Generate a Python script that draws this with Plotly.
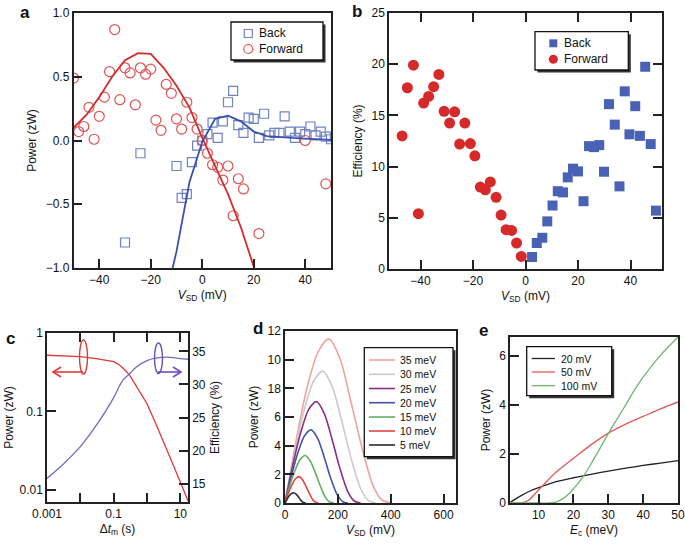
import plotly.graph_objects as go

W, H = 685, 544
def px(x): return x / W
def py(y): return 1 - y / H

FONT = "Liberation Sans, Arial, Helvetica, sans-serif"
AX = "#222222"

# ---------------- Panel a data ----------------
a_fwd_v = [-50, -48, -46, -44, -42, -40, -38, -36, -34, -32, -30, -28, -26, -24, -22, -20, -18, -16,
           -14, -12, -10, -8, -6, -4, -2, 0, 2, 4, 6, 8, 10, 12, 14, 16, 22, 40, 48]
a_fwd_p = [0.49, 0.07, 0.11, 0.26, 0.01, 0.19, 0.34, 0.54, 0.87, 0.32, 0.57, 0.53, 0.28, 0.57, 0.52, 0.56,
           0.16, 0.08, 0.44, 0.37, 0.17, 0.09, 0.30, 0.18, 0.09, 0.00, -0.10, -0.19, -0.21, -0.31, -0.20,
           -0.59, -0.30, -0.38, -0.73, 0.00, -0.34]
a_back_v = [-30, -24, -10, -8, -6, -4, -2, 0, 2, 4, 6, 8, 10, 12, 14, 16, 18, 20, 22, 24, 26, 28, 30, 32,
            34, 36, 38, 40, 42, 44, 46, 48, 50]
a_back_p = [-0.80, -0.10, -0.20, -0.45, -0.42, -0.17, -0.04, 0.00, 0.05, 0.14, 0.02, 0.15, 0.30, 0.39, 0.12,
            0.06, 0.18, 0.17, 0.02, 0.21, 0.04, 0.06, 0.06, 0.19, 0.07, 0.02, 0.07, 0.05, 0.11, 0.04, 0.07,
            0.03, 0.01]
a_fitf_v = [-50, -45, -40, -35, -30, -25, -20, -15, -10, -5, 0, 5, 10, 15, 20, 25]
a_fitf_p = [0.10, 0.20, 0.34, 0.50, 0.63, 0.685, 0.68, 0.57, 0.43, 0.26, 0.02, -0.20, -0.42, -0.68, -0.97, -1.30]
a_fitb_v = [-15, -10, -5, 0, 5, 10, 15, 20, 25, 30, 35, 40, 45, 50]
a_fitb_p = [-1.30, -0.87, -0.33, -0.01, 0.17, 0.195, 0.15, 0.07, 0.035, 0.025, 0.02, 0.015, 0.01, 0.005]

# ---------------- Panel b data ----------------
b_fwd_v = [-47.0, -45.0, -42.7, -40.8, -38.8, -36.9, -35.0, -33.0, -31.0, -28.9, -27.0, -25.1, -23.1, -21.0,
           -19.3, -17.2, -15.3, -13.4, -11.2, -9.3, -7.4, -5.3, -3.4, -1.6]
b_fwd_e = [13.0, 17.7, 19.9, 5.4, 16.2, 16.85, 17.8, 19.0, 15.4, 14.25, 15.35, 12.2, 14.25, 12.25, 11.05,
           8.0, 7.74, 8.5, 7.0, 5.27, 3.84, 3.77, 2.54, 1.23]
b_back_v = [2.5, 4.3, 6.4, 8.3, 10.3, 12.3, 14.3, 16.1, 18.1, 20.0, 22.1, 24.2, 26.1, 28.1, 29.9, 31.8, 34.0,
            35.8, 37.8, 39.6, 41.8, 43.6, 45.6, 47.7, 49.7]
b_back_e = [1.17, 2.54, 3.05, 4.65, 6.2, 7.6, 7.48, 8.95, 9.8, 9.53, 6.62, 12.0, 11.9, 12.1, 9.5, 16.1, 14.1,
            8.07, 17.35, 13.15, 15.9, 13.0, 19.75, 12.2, 5.7]

# ---------------- Panel c data ----------------
c_t = [0.001, 0.003, 0.01, 0.03, 0.1, 0.15, 0.2, 0.3, 0.5, 1, 2, 5, 10, 17]
c_power = [0.52, 0.51, 0.50, 0.47, 0.43, 0.39, 0.35, 0.29, 0.205, 0.125, 0.064, 0.026, 0.0125, 0.0072]
c_eff = [15.8, 17.9, 20.6, 23.8, 28.0, 29.8, 30.8, 31.6, 32.7, 33.6, 34.0, 34.1, 33.9, 33.8]

# ---------------- Panel d data ----------------
d_labels = ["35 meV", "30 meV", "25 meV", "20 meV", "15 meV", "10 meV", "5 meV"]
d_v = [
    [0, 42, 83, 125, 166, 208, 249, 291, 332, 365, 398],
    [0, 36, 72, 107, 143, 179, 215, 250, 286, 315, 343],
    [0, 30, 60, 89, 119, 149, 179, 208, 238, 262, 286],
    [0, 25, 50, 74, 99, 124, 149, 173, 198, 218, 238],
    [0, 19, 39, 58, 77, 96, 116, 135, 154, 169, 185],
    [0, 13, 27, 40, 53, 66, 80, 93, 106, 117, 127],
    [0, 8, 16, 25, 33, 41, 50, 58, 66, 73, 79],
]
d_p = [
    [0, 4.35, 8.02, 10.53, 11.45, 10.08, 7.10, 3.89, 1.26, 0.23, 0],
    [0, 3.50, 6.44, 8.46, 9.20, 8.10, 5.70, 3.13, 1.01, 0.18, 0],
    [0, 2.69, 4.95, 6.50, 7.07, 6.22, 4.38, 2.40, 0.78, 0.14, 0],
    [0, 1.94, 3.57, 4.69, 5.10, 4.49, 3.16, 1.73, 0.56, 0.10, 0],
    [0, 1.26, 2.32, 3.05, 3.31, 2.91, 2.05, 1.13, 0.36, 0.07, 0],
    [0, 0.70, 1.29, 1.69, 1.84, 1.62, 1.14, 0.63, 0.20, 0.04, 0],
    [0, 0.27, 0.50, 0.66, 0.72, 0.63, 0.45, 0.24, 0.08, 0.01, 0],
]
d_colors = ["#f0a2a2", "#cbcbcb", "#8c2f84", "#4153a8", "#62b062", "#e24444", "#2a2a2a"]
d_yticks = [0, 2, 4, 6, 8, 10, 12]
d_yticktext = ["0", "2", "4", "6", "18", "10", "12"]

# ---------------- Panel e data ----------------
e_labels = ["20 mV", "50 mV", "100 mV"]
e_ec = [
    [1.8, 5, 8, 11, 15, 20, 25, 30, 35, 40, 45, 50],
    [1.8, 5, 7, 9, 11, 13, 15, 17.5, 20, 25, 30, 35, 40, 45, 50],
    [1.8, 10, 13, 15, 17, 19, 21, 23, 25, 27.5, 30, 32.5, 35, 37.5, 40, 45, 50],
]
e_p = [
    [0.02, 0.30, 0.52, 0.68, 0.87, 1.03, 1.17, 1.30, 1.42, 1.53, 1.63, 1.73],
    [0, 0, 0.10, 0.38, 0.68, 0.98, 1.25, 1.55, 1.82, 2.37, 2.85, 3.22, 3.53, 3.84, 4.12],
    [0, 0, 0, 0.04, 0.18, 0.42, 0.75, 1.12, 1.58, 2.20, 2.83, 3.42, 4.00, 4.60, 5.13, 6.03, 6.77],
]
e_colors = ["#222222", "#e05a5a", "#72b472"]

BACK_OPEN, FWD_OPEN = "#6f82c4", "#e05454"
BACK_FILL, FWD_FILL = "#4a62b5", "#d62a2a"

fig = go.Figure()

# Panel a
fig.add_trace(go.Scatter(x=a_back_v, y=a_back_p, mode="markers", name="Back", showlegend=False,
                         marker=dict(symbol="square-open", size=9, color=BACK_OPEN, line=dict(width=1.2)),
                         xaxis="x", yaxis="y"))
fig.add_trace(go.Scatter(x=a_fwd_v, y=a_fwd_p, mode="markers", name="Forward", showlegend=False,
                         marker=dict(symbol="circle-open", size=10, color=FWD_OPEN, line=dict(width=1.2)),
                         xaxis="x", yaxis="y"))
fig.add_trace(go.Scatter(x=a_fitf_v, y=a_fitf_p, mode="lines", showlegend=False,
                         line=dict(color="#d42c2c", width=1.8), xaxis="x", yaxis="y"))
fig.add_trace(go.Scatter(x=a_fitb_v, y=a_fitb_p, mode="lines", showlegend=False,
                         line=dict(color="#3b4fb0", width=1.8), xaxis="x", yaxis="y"))

# Panel b
fig.add_trace(go.Scatter(x=b_back_v, y=b_back_e, mode="markers", name="Back", showlegend=False,
                         marker=dict(symbol="square", size=10, color=BACK_FILL),
                         xaxis="x2", yaxis="y2"))
fig.add_trace(go.Scatter(x=b_fwd_v, y=b_fwd_e, mode="markers", name="Forward", showlegend=False,
                         marker=dict(symbol="circle", size=11, color=FWD_FILL),
                         xaxis="x2", yaxis="y2"))

# Panel c
fig.add_trace(go.Scatter(x=c_t, y=c_power, mode="lines", showlegend=False,
                         line=dict(color="#e03838", width=1.3), xaxis="x3", yaxis="y3"))
fig.add_trace(go.Scatter(x=c_t, y=c_eff, mode="lines", showlegend=False,
                         line=dict(color="#6d6dc2", width=1.3, shape="spline"), xaxis="x3", yaxis="y4"))

# Panel d
for lab, v, p, col in zip(d_labels, d_v, d_p, d_colors):
    fig.add_trace(go.Scatter(x=v, y=p, mode="lines", name=lab, showlegend=False,
                             line=dict(color=col, width=1.6, shape="spline", smoothing=0.8),
                             xaxis="x4", yaxis="y5"))

# Panel e
for lab, ec, p, col in zip(e_labels, e_ec, e_p, e_colors):
    fig.add_trace(go.Scatter(x=ec, y=p, mode="lines", name=lab, showlegend=False,
                             line=dict(color=col, width=1.3, shape="spline", smoothing=0.8),
                             xaxis="x5", yaxis="y6"))


def ax(**kw):
    d = dict(showline=True, linecolor=AX, linewidth=1.5, ticks="inside", ticklen=9, tickwidth=1.5,
             tickcolor=AX, showgrid=False, zeroline=False, mirror=True, automargin=False,
             ticklabeloverflow="allow",
             tickfont=dict(size=12, color="#111"), title_font=dict(size=12, color="#111"))
    d.update(kw)
    return d


VSD = "<i>V</i><sub>SD</sub> (mV)"
fig.update_layout(
    width=W, height=H, margin=dict(l=0, r=0, t=0, b=0),
    paper_bgcolor="white", plot_bgcolor="white", showlegend=False,
    font=dict(family=FONT, size=12, color="#111"),
    xaxis=ax(domain=[px(73.5), px(331)], range=[-50, 50], tickvals=[-40, -20, 0, 20, 40], anchor="y",
             title=dict(text=VSD, standoff=4)),
    yaxis=ax(domain=[py(268), py(13)], range=[-1, 1], tickvals=[-1, -0.5, 0, 0.5, 1], tickformat=".1f",
             anchor="x", title=dict(text="Power (zW)", standoff=6)),
    xaxis2=ax(domain=[px(389), px(662)], range=[-52, 52], tickvals=[-40, -20, 0, 20, 40], anchor="y2",
              mirror="ticks", title=dict(text=VSD, standoff=4)),
    yaxis2=ax(domain=[py(269), py(13)], range=[0, 25], tickvals=[0, 5, 10, 15, 20, 25], anchor="x2",
              mirror="ticks", title=dict(text="Efficiency (%)", standoff=6)),
    xaxis3=ax(domain=[px(47), px(188)], type="log", range=[-3, 1.23],
              tickvals=[0.001, 0.1, 10], ticktext=["0.001", "0.1", "10"],
              minor=dict(tickvals=[0.01, 1], ticks="inside", ticklen=9, tickwidth=1.5, tickcolor=AX),
              anchor="y3", mirror="ticks", title=dict(text="Δ<i>t</i><sub>m</sub> (s)", standoff=4)),
    yaxis3=ax(domain=[py(502), py(333)], type="log", range=[-2.157, 0],
              tickvals=[0.01, 0.1, 1], ticktext=["0.01", "0.1", "1"], anchor="x3", mirror=False,
              title=dict(text="Power (zW)", standoff=3)),
    yaxis4=ax(overlaying="y3", side="right", anchor="x3", range=[12.23, 37.77],
              tickvals=[15, 20, 25, 30, 35], mirror=False,
              title=dict(text="Efficiency (%)", standoff=6)),
    xaxis4=ax(domain=[px(285), px(456)], range=[0, 647], tickvals=[0, 200, 400, 600], anchor="y5",
              title=dict(text=VSD, standoff=4)),
    yaxis5=ax(domain=[py(503), py(331)], range=[0, 12], tickvals=d_yticks, ticktext=d_yticktext,
              anchor="x4", title=dict(text="Power (zW)", standoff=6)),
    xaxis5=ax(domain=[px(510), px(678)], range=[1.8, 50], tickvals=[10, 20, 30, 40, 50], anchor="y6",
              title=dict(text="<i>E</i><sub>c</sub> (meV)", standoff=4)),
    yaxis6=ax(domain=[py(503), py(337)], range=[0, 6.77], tickvals=[0, 2, 4, 6], anchor="x5",
              title=dict(text="Power (zW)", standoff=6)),
)

shapes = []
annots = []

# panel letters
for letter, x, y in [("a", 25, 12), ("b", 357, 11), ("c", 10, 338), ("d", 258, 328), ("e", 483, 330)]:
    annots.append(dict(text=f"<b>{letter}</b>", x=px(x), y=py(y), xref="paper", yref="paper",
                       showarrow=False, xanchor="center", yanchor="middle", font=dict(size=17, color="#111")))


def legend_frame(x0, y0, x1, y1):
    shapes.append(dict(type="rect", xref="paper", yref="paper", x0=px(x0 + 2.5), x1=px(x1 + 2.5),
                       y0=py(y1 + 2.5), y1=py(y0 + 2.5), fillcolor="#333", line=dict(width=0)))
    shapes.append(dict(type="rect", xref="paper", yref="paper", x0=px(x0), x1=px(x1),
                       y0=py(y1), y1=py(y0), fillcolor="white", line=dict(color="#111", width=1.3)))


def legend_text(text, x, y, size):
    annots.append(dict(text=text, x=px(x), y=py(y), xref="paper", yref="paper", showarrow=False,
                       xanchor="left", yanchor="middle", font=dict(size=size, color="#111")))


def sym(kind, cx, cy, r, color, filled):
    shapes.append(dict(type=kind, xref="paper", yref="paper", x0=px(cx - r), x1=px(cx + r),
                       y0=py(cy + r), y1=py(cy - r),
                       fillcolor=color if filled else "rgba(0,0,0,0)",
                       line=dict(color=color, width=0 if filled else 1.2)))


# legend a
legend_frame(231, 22, 323, 60)
sym("rect", 248.3, 33.5, 4, BACK_OPEN, False)
sym("circle", 248.3, 49, 4.5, FWD_OPEN, False)
legend_text("Back", 257, 33.5, 12)
legend_text("Forward", 257, 49, 12)

# legend b
legend_frame(535, 31.7, 628.3, 70)
sym("rect", 553.3, 43.3, 4, BACK_FILL, True)
sym("circle", 553.3, 59.3, 4.5, FWD_FILL, True)
legend_text("Back", 562, 43.3, 12)
legend_text("Forward", 562, 59.3, 12)

# legend d
legend_frame(364.3, 347.7, 453, 456.7)
d_rows = [360, 374.3, 388.5, 402.7, 417, 431, 445]
for lab, col, yy in zip(d_labels, d_colors, d_rows):
    shapes.append(dict(type="line", xref="paper", yref="paper", x0=px(369), x1=px(395), y0=py(yy), y1=py(yy),
                       line=dict(color=col, width=1.6)))
    legend_text(lab, 397.5, yy, 10.5)

# legend e
legend_frame(526.7, 346.7, 611.7, 395.7)
e_rows = [358.5, 372, 385.7]
for lab, col, yy in zip(e_labels, e_colors, e_rows):
    shapes.append(dict(type="line", xref="paper", yref="paper", x0=px(531.7), x1=px(555), y0=py(yy), y1=py(yy),
                       line=dict(color=col, width=1.3)))
    legend_text(lab, 559, yy, 10.5)

# panel c ellipses and arrows
RED, PUR = "#e03a3a", "#6a50b8"
shapes += [
    dict(type="circle", xref="paper", yref="paper", x0=px(79.5), x1=px(87.5), y0=py(374), y1=py(340),
         line=dict(color=RED, width=1.4)),
    dict(type="line", xref="paper", yref="paper", x0=px(83), x1=px(53.5), y0=py(372), y1=py(372),
         line=dict(color=RED, width=1.6)),
    dict(type="path", xref="paper", yref="paper",
         path=f"M {px(61)} {py(367)} L {px(53)} {py(372)} L {px(61)} {py(377)}",
         line=dict(color=RED, width=1.6)),
    dict(type="circle", xref="paper", yref="paper", x0=px(154.5), x1=px(162.5), y0=py(373.5), y1=py(343),
         line=dict(color=PUR, width=1.4)),
    dict(type="line", xref="paper", yref="paper", x0=px(158), x1=px(180.5), y0=py(372), y1=py(372),
         line=dict(color=PUR, width=1.6)),
    dict(type="path", xref="paper", yref="paper",
         path=f"M {px(173)} {py(367)} L {px(181)} {py(372)} L {px(173)} {py(377)}",
         line=dict(color=PUR, width=1.6)),
]
fig.update_layout(shapes=shapes, annotations=annots)

# remove the browser's default 8 px body margin so the figure fills the window exactly
fig.write_html("out.html", config={"displayModeBar": False},
               post_script="document.body.style.margin='0';document.body.style.overflow='hidden';")
